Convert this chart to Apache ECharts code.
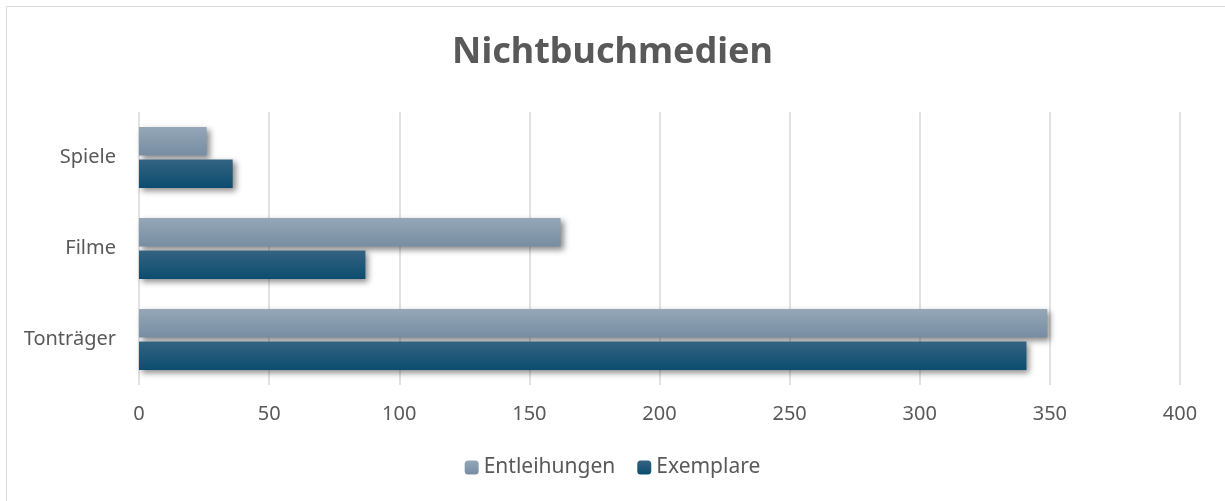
<!DOCTYPE html>
<html><head><meta charset="utf-8">
<script src="https://cdn.jsdelivr.net/npm/echarts@6/dist/echarts.min.js"></script>
<style>html,body{margin:0;padding:0;background:#fff}#c{width:1225px;height:501px}</style>
</head><body><div id="c"></div>
<script>
const categories = ['Tonträger', 'Filme', 'Spiele'];
const entleihungen = [349, 162, 26];
const exemplare = [341, 87, 36];
const xTicks = [0, 50, 100, 150, 200, 250, 300, 350, 400];

const font = 'Noto Sans';
const chart = echarts.init(document.getElementById('c'), null, {renderer: 'canvas'});
const grad = (a, b) => new echarts.graphic.LinearGradient(0, 0, 0, 1, [{offset: 0, color: a}, {offset: 1, color: b}]);
chart.setOption({
  animation: false,
  backgroundColor: '#fff',
  graphic: [{type: 'rect', shape: {x: 6.5, y: 6.5, width: 1230, height: 500}, style: {fill: 'none', stroke: '#d9d9d9', lineWidth: 1}}],
  title: {text: 'Nichtbuchmedien', left: 'center', top: 30, textStyle: {fontFamily: font, fontSize: 36, fontWeight: 'bold', color: '#595959'}},
  legend: {data: ['Entleihungen', 'Exemplare'], bottom: 18, left: 'center', itemWidth: 14, itemHeight: 14, itemGap: 22,
    textStyle: {fontFamily: font, fontSize: 21, color: '#595959'}},
  grid: {left: 139, right: 45, top: 112, bottom: 116},
  xAxis: {type: 'value', min: 0, max: 400, interval: 50,
    axisLine: {show: false}, axisTick: {show: false},
    splitLine: {lineStyle: {color: '#d9d9d9', width: 1.5}},
    axisLabel: {fontFamily: font, fontSize: 20, color: '#595959', margin: 19,
      formatter: v => xTicks.includes(v) ? String(v) : ''}},
  yAxis: {type: 'category', data: categories,
    axisLine: {show: false}, axisTick: {show: false},
    axisLabel: {fontFamily: font, fontSize: 20, color: '#595959', margin: 23}},
  series: [
    {name: 'Entleihungen', type: 'bar', data: entleihungen, barGap: '14%', barCategoryGap: '33%',
      itemStyle: {color: grad('#95a7b7', '#778da2'), shadowColor: 'rgba(0,0,0,0.45)', shadowBlur: 6, shadowOffsetX: 3, shadowOffsetY: 3}},
    {name: 'Exemplare', type: 'bar', data: exemplare, barGap: '14%', barCategoryGap: '33%',
      itemStyle: {color: grad('#346381', '#0b4d6f'), shadowColor: 'rgba(0,0,0,0.45)', shadowBlur: 6, shadowOffsetX: 3, shadowOffsetY: 3}}
  ]
});
</script></body></html>
